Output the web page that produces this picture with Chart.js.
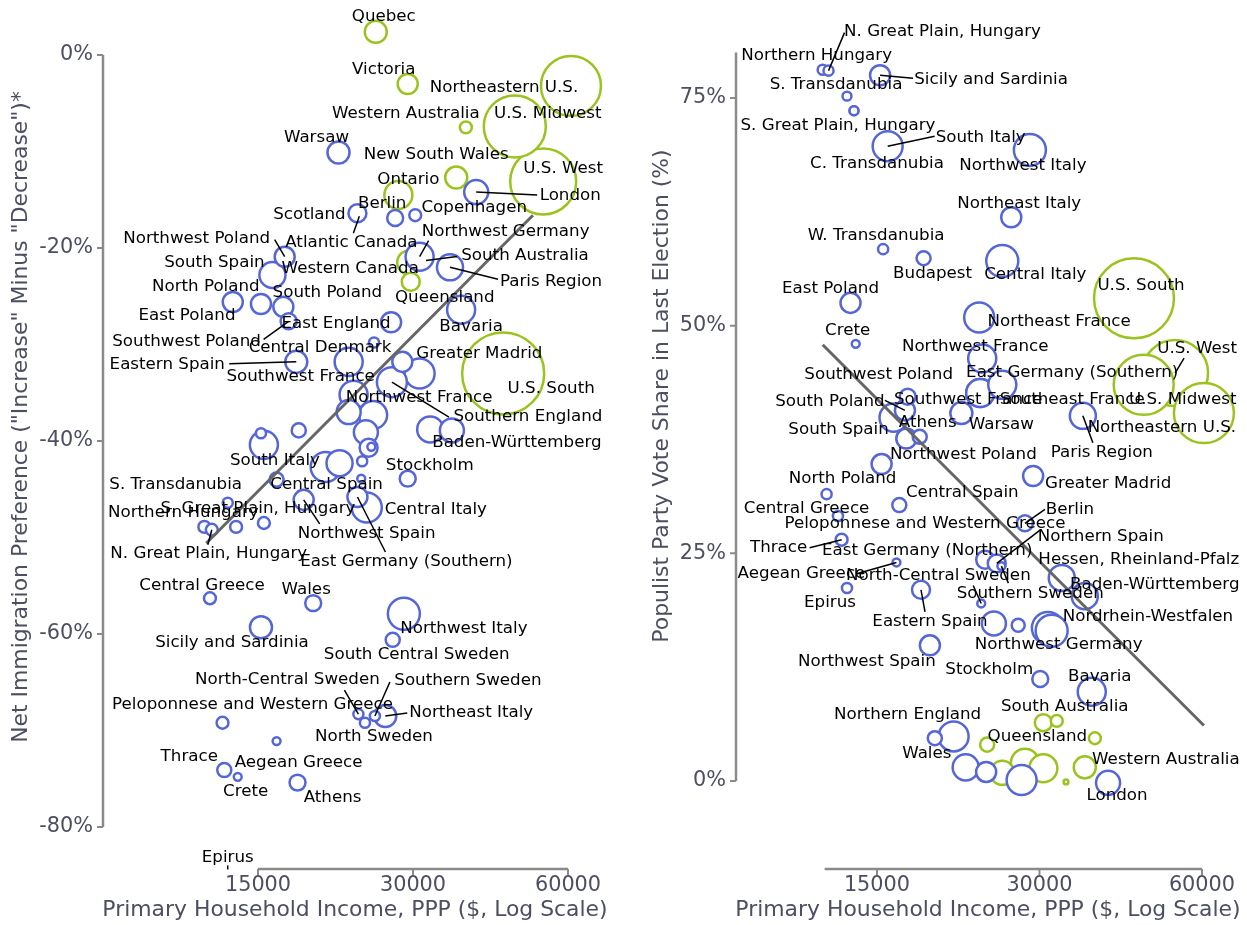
<!DOCTYPE html>
<html>
<head>
<meta charset="utf-8">
<script src="https://cdn.jsdelivr.net/npm/chart.js@4.4.1/dist/chart.umd.min.js"></script>
<style>
  html, body { margin: 0; padding: 0; background: #fff; }
  #wrap { position: relative; width: 1247px; height: 925px; overflow: hidden; }
  canvas { position: absolute; top: 0; }
</style>
</head>
<body>
<div id="wrap">
  <canvas id="leftChart" width="623" height="925" style="left:0"></canvas>
  <canvas id="rightChart" width="624" height="925" style="left:623px"></canvas>
</div>
<script>
// ---- shared ticks ----
const incomeTicks = [15000, 30000, 60000];
const leftPrefTicks = [0, -20, -40, -60, -80];
const rightShareTicks = [0, 25, 50, 75];

// ---- left panel: net immigration preference ----
// group: 'nw' = US / Canada / Australia, 'eu' = European regions
const leftRegions = ['Quebec', 'Victoria', 'Northeastern U.S.', 'Western Australia', 'U.S. Midwest', 'New South Wales', 'U.S. West', 'Ontario', 'Western Canada', 'Queensland', 'U.S. South', 'South Australia', 'Atlantic Canada',
  'Warsaw', 'London', 'Scotland', 'Berlin', 'Copenhagen', 'Northwest Germany', 'Paris Region', 'Northwest Poland', 'South Spain', 'North Poland', 'East Poland', 'South Poland', 'Bavaria', 'East England', 'Southwest Poland', 'Central Denmark', 'Eastern Spain', 'Southwest France', 'Greater Madrid', '', 'Southern England', '', '', 'Northwest France', '', '', '', '', '', 'Baden-Württemberg', 'Stockholm', '', '', '', 'South Italy', '', '', 'Central Spain', 'Northwest Spain', 'East Germany (Southern)', 'Central Italy', 'S. Great Plain, Hungary', '', 'S. Transdanubia', 'Northern Hungary', 'N. Great Plain, Hungary', 'Central Greece', 'Wales', 'Northwest Italy', 'Sicily and Sardinia', 'South Central Sweden', 'North-Central Sweden', 'Southern Sweden', 'Northeast Italy', 'North Sweden', 'Peloponnese and Western Greece', 'Aegean Greece', 'Thrace', 'Crete', 'Athens', 'Epirus'];
const leftIncome = [25400, 29300, 60800, 38000, 47300, 36400, 53700, 28100, 29500, 29700, 44900, 31800, 23600,
  21500, 39800, 23400, 27700, 30300, 30900, 35400, 16900, 16000, 13400, 15200, 16800, 37200, 27200, 17200, 25200, 17800, 22500, 28600, 30900, 27300, 23000, 22500, 25100, 24300, 24600, 24900, 23900, 32400, 35700, 29300, 23800, 20300, 21600, 15400, 15200, 18000, 16300, 18400, 23400, 24400, 15400, 13600, 13100, 11800, 12200, 12100, 19200, 28800, 15200, 27400, 23500, 25300, 26500, 24200, 12800, 16300, 12900, 13700, 17900, 13100];
const leftNetPref = [2.4, -3.0, -3.2, -7.5, -7.4, -12.7, -13.1, -14.5, -21.5, -23.5, -33.0, -21.3, -16.7,
  -10.1, -14.2, -16.4, -16.9, -16.6, -20.9, -22.0, -20.9, -22.8, -25.6, -25.8, -26.1, -26.4, -27.7, -27.6, -29.8, -31.8, -31.8, -31.8, -33.0, -33.9, -35.2, -37.0, -37.3, -39.1, -40.7, -40.6, -42.1, -38.8, -38.9, -43.9, -43.9, -42.7, -42.3, -40.4, -39.2, -38.9, -44.0, -46.1, -45.8, -46.9, -48.5, -48.9, -46.4, -48.9, -49.2, -56.3, -56.8, -57.9, -59.3, -60.6, -68.3, -68.5, -68.5, -69.2, -69.2, -71.1, -74.1, -74.8, -75.4, -84.4];
const leftPop = [8.6, 7.1, 63.6, 2.5, 68, 8.6, 77, 13.9, 10.2, 5.7, 119, 1.1, 1.8,
  8.6, 10.2, 5.7, 4.5, 2.5, 13.9, 12.0, 7.1, 12.0, 7.1, 7.1, 7.1, 13.9, 7.1, 4.5, 1.8, 8.6, 13.9, 7.1, 15.9, 15.9, 13.9, 10.2, 13.9, 10.2, 5.7, 1.1, 1.8, 12.0, 10.2, 4.5, 1.1, 15.9, 12.0, 13.9, 1.8, 3.5, 3.5, 7.1, 7.1, 15.9, 2.5, 2.5, 1.8, 2.5, 2.5, 2.5, 4.5, 18.1, 8.6, 3.5, 1.8, 1.8, 8.6, 1.8, 2.5, 1.1, 3.5, 1.1, 4.5, 1.1];
const leftGroup = leftRegions.map((_, i) => i < 13 ? 'nw' : 'eu');
const leftFitIncome = [11900, 51300];
const leftFitPref = [-50.6, -16.6];

// ---- right panel: populist vote share ----
const rightRegions = ['Northern Hungary', 'N. Great Plain, Hungary', 'Sicily and Sardinia', 'S. Transdanubia', 'S. Great Plain, Hungary', 'C. Transdanubia', 'South Italy', 'Northwest Italy', 'Northeast Italy', 'W. Transdanubia', 'Budapest', 'Central Italy', 'East Poland', 'Northeast France', 'Crete', 'Northwest France', 'East Germany (Southern)', 'Southwest France', 'Southeast France', 'Southwest Poland', 'South Poland', 'South Spain', 'Northwest Poland', 'Athens', 'Warsaw', 'Paris Region', 'North Poland', 'Greater Madrid', 'Central Greece', 'Central Spain', 'Peloponnese and Western Greece', 'Berlin', 'Thrace', 'Aegean Greece', 'East Germany (Northern)', 'Northern Spain', 'North-Central Sweden', 'Hessen, Rheinland-Pfalz', 'Baden-Württemberg', 'Epirus', 'Eastern Spain', 'Southern Sweden', '', '', 'Nordrhein-Westfalen', 'Northwest Germany', 'Northwest Spain', 'Stockholm', 'Bavaria', 'Wales', 'Northern England', '', '', '', 'London',
  'U.S. South', 'U.S. West', 'U.S. Midwest', 'Northeastern U.S.', 'Queensland', 'South Australia', '', 'Western Australia', '', '', '', '', ''];
const rightIncome = [11900, 12200, 15200, 13200, 13600, 13600, 15700, 28800, 26600, 15400, 18300, 25600, 13400, 23200, 13700, 23500, 23300, 23300, 25600, 17100, 16900, 16100, 17000, 18000, 21500, 36100, 15300, 29200, 12100, 16500, 12700, 28200, 12900, 16300, 23800, 25000, 25500, 33000, 36400, 13200, 18100, 23400, 24700, 27400, 31100, 31600, 18800, 30100, 37500, 19200, 20800, 21900, 23900, 27800, 40200,
  44900, 53500, 46800, 60500, 30500, 32300, 24000, 38000, 25600, 28200, 30500, 36400, 33600];
const rightShare = [78.1, 78.0, 77.5, 75.2, 73.6, 73.6, 69.7, 69.3, 61.9, 58.4, 57.4, 57.1, 52.5, 50.9, 48.0, 46.4, 42.6, 42.6, 43.5, 42.2, 40.7, 39.9, 37.6, 37.8, 40.4, 40.1, 34.8, 33.5, 31.5, 30.3, 29.1, 28.3, 26.5, 24.0, 24.3, 23.9, 23.6, 22.3, 20.3, 21.2, 21.0, 19.5, 17.3, 17.1, 16.8, 16.5, 14.9, 11.2, 9.8, 4.7, 4.9, 1.5, 1.0, 0.1, -0.2,
  53.0, 44.8, 43.5, 40.4, 6.4, 6.6, 4.0, 4.7, 0.9, 2.0, 1.4, 1.5, -0.1];
const rightPop = [1.8, 1.8, 7.1, 1.4, 1.4, 1.4, 15.9, 18.1, 7.1, 1.8, 3.5, 18.1, 7.1, 15.9, 1.1, 13.9, 13.9, 13.9, 13.9, 4.5, 7.1, 13.9, 7.1, 3.5, 8.6, 12.0, 7.1, 7.1, 1.8, 3.5, 1.8, 4.5, 2.5, 1.1, 5.7, 5.7, 1.1, 12.0, 12.0, 1.8, 5.7, 1.1, 10.2, 3.0, 18.1, 18.1, 7.1, 4.5, 13.9, 3.5, 15.9, 12.0, 7.1, 15.9, 10.2,
  113, 77, 63.6, 63.6, 5.1, 2.5, 3.5, 2.5, 10.2, 13.9, 13.9, 8.6, 0.4];
const rightGroup = rightRegions.map((_, i) => i < 55 ? 'eu' : 'nw');
const rightFitIncome = [11900, 60500];
const rightFitShare = [47.9, 6.1];

// ---- label placement (px offset of label centre from its bubble) ----
const leftLabelShift = [[8, -15], [-24, -14], [-67, 2], [-60, -14], [33, -13], [-20, -23], [20, -13], [10, -15], [-59, 6], [34, 16], [48, 15], [99, -5], [-8, 27],
  [-22, -15], [94, 4], [-48, 1], [-13, -14], [59, -8], [86, -25], [101, 14], [-88, -18], [-58, -12], [-27, -15], [-74, 12], [44, -14], [10, 17], [-55, 1], [-102, 20], [-54, 5], [-129, 3], [-48, 15], [77, -8], null, [136, 35], null, null, [46, -17], null, null, null, null, null, [65, 12], [22, -13], null, null, null, [11, 16], null, null, [50, 5], [63, 34], [49, 65], [69, 2], [-6, -14], null, [-52, -18], [-21, -14], [-3, 24], [-8, -13], [-7, -13], [60, 15], [-29, 15], [24, 15], [-71, -34], [93, -35], [86, -3], [9, 14], [30, -18], [22, 22], [-35, -13], [8, 15], [35, 15], [0, -12]];
const leftLeaders = {11: [31, -4], 12: [-6, 17], 14: [61, 3], 18: [9, -16], 19: [48, 12], 20: [-10, -17], 27: [-25, 18], 29: [-67, 2], 33: [57, 35], 51: [16, 24], 52: [28, 55], 58: [-4, 15], 64: [-14, -24], 65: [15, -34], 66: [22, -3], 73: [0, -4]};

const rightLabelShift = [[-6, -14], [114, -39], [111, 4], [-11, -11], [-16, 15], [23, 53], [93, -9], [-7, 16], [8, -14], [-7, -13], [9, 15], [33, 14], [-20, -14], [80, 4], [-8, -13], [-7, -12], [92, -20], [-12, 7], [70, 15], [-29, -22], [-75, -9], [-55, 12], [57, 16], [8, -14], [40, 12], [19, 37], [-39, 15], [75, 8], [-20, 15], [63, -12], [87, 8], [45, -14], [-63, 8], [-95, 11], [-58, -9], [104, -27], [-63, 10], [77, -18], [70, -11], [-17, 15], [9, 32], [49, -10], null, null, [100, -11], [7, 14], [-63, 16], [-51, -9], [8, -15], [-8, 15], [-46, -22], null, null, null, [9, 13],
  [7, -13], [22, -24], [39, 15], [-42, 15], [-6, 14], [8, -14], null, [71, 21], null, null, null, null, null];
const rightLeaders = {1: [16, -38], 2: [33, 3], 6: [47, -10], 20: [-20, -10], 25: [10, 27], 31: [20, -14], 32: [-32, 8], 33: [-39, 11], 35: [43, -33], 36: [7, 17], 40: [4, 22], 41: [-8, -18], 56: [9, -15]};

const BLUE = '#5566d8';
const GREEN = '#9bc31e';
const INK = '#4c4e62';

function bubbleRadius(pop) {
  return 3.76 * Math.sqrt(pop);
}

// bubbles of one group, largest first so the small ones sit on top
function bubblePoints(income, vals, pop, group, want) {
  const idx = income.map((_, i) => i).filter(i => group[i] === want);
  idx.sort((a, b) => pop[b] - pop[a]);
  return idx.map(i => ({x: income[i], y: vals[i], r: bubbleRadius(pop[i])}));
}

function fitPoints(xs, ys) {
  return xs.map((x, i) => ({x: x, y: ys[i]}));
}

// axes, ticks, titles and the region labels
const panelDecor = {
  id: 'panelDecor',
  afterDraw(chart, args, o) {
    const ctx = chart.ctx;
    const xs = chart.scales.x, ys = chart.scales.y;
    ctx.save();

    // region labels + leader lines
    ctx.font = '16.7px "DejaVu Sans"';
    ctx.fillStyle = '#000';
    ctx.strokeStyle = '#000';
    ctx.lineWidth = 1.5;
    ctx.textAlign = 'center';
    ctx.textBaseline = 'middle';
    o.names.forEach((name, i) => {
      const shift = o.labelShift[i];
      if (!name || !shift) return;
      const px = xs.getPixelForValue(o.income[i]);
      const py = ys.getPixelForValue(o.values[i]);
      const lead = o.leaders[i];
      if (lead) {
        ctx.beginPath();
        ctx.moveTo(px + lead[0], py + lead[1]);
        ctx.lineTo(px, py);
        ctx.stroke();
      }
      ctx.fillText(name, px + shift[0], py + shift[1]);
    });

    // trimmed, offset spines
    const yA = o.yAxisAt, xA = o.xAxisAt;
    ctx.strokeStyle = '#8a8a8a';
    ctx.lineWidth = 2.5;
    ctx.beginPath();
    ctx.moveTo(yA, ys.getPixelForValue(o.ySpan[0]));
    ctx.lineTo(yA, ys.getPixelForValue(o.ySpan[1]));
    ctx.moveTo(xs.getPixelForValue(o.xSpan[0]), xA);
    ctx.lineTo(xs.getPixelForValue(o.xSpan[1]), xA);
    ctx.stroke();
    ctx.lineWidth = 2;
    ctx.beginPath();
    o.yTicks.forEach(v => {
      const y = ys.getPixelForValue(v);
      ctx.moveTo(yA - 6, y);
      ctx.lineTo(yA, y);
    });
    o.xTicks.forEach(v => {
      const x = xs.getPixelForValue(v);
      ctx.moveTo(x, xA);
      ctx.lineTo(x, xA + 6);
    });
    ctx.stroke();

    ctx.fillStyle = INK;
    ctx.font = '20.8px "DejaVu Sans"';
    ctx.textAlign = 'right';
    ctx.textBaseline = 'middle';
    o.yTicks.forEach(v => ctx.fillText(v + '%', yA - 10, ys.getPixelForValue(v)));
    ctx.textAlign = 'center';
    o.xTicks.forEach(v => ctx.fillText(String(v), xs.getPixelForValue(v), xA + 17));

    ctx.font = '21.9px "DejaVu Sans"';
    ctx.fillText(o.xTitle, o.xTitleAt[0], o.xTitleAt[1]);
    ctx.translate(o.yTitleAt[0], o.yTitleAt[1]);
    ctx.rotate(-Math.PI / 2);
    ctx.fillText(o.yTitle, 0, 0);
    ctx.restore();
  }
};

function makePanel(canvasId, d) {
  return new Chart(document.getElementById(canvasId), {
    type: 'bubble',
    data: {
      datasets: [
        {
          type: 'line',
          data: fitPoints(d.fitX, d.fitY),
          borderColor: '#666666',
          borderWidth: 3,
          pointRadius: 0,
          fill: false,
          order: 0
        },
        {
          data: bubblePoints(d.income, d.values, d.pop, d.group, 'eu'),
          backgroundColor: '#ffffff',
          borderColor: BLUE,
          borderWidth: 2.5,
          order: 1
        },
        {
          data: bubblePoints(d.income, d.values, d.pop, d.group, 'nw'),
          backgroundColor: '#ffffff',
          borderColor: GREEN,
          borderWidth: 2.5,
          order: 2
        }
      ]
    },
    options: {
      responsive: false,
      animation: false,
      events: [],
      layout: {padding: d.padding, autoPadding: false},
      scales: {
        x: {type: 'logarithmic', min: d.xRange[0], max: d.xRange[1], display: false},
        y: {type: 'linear', min: d.yRange[0], max: d.yRange[1], display: false}
      },
      plugins: {
        legend: {display: false},
        tooltip: {enabled: false},
        panelDecor: {
          names: d.names, income: d.income, values: d.values,
          labelShift: d.labelShift, leaders: d.leaders,
          yAxisAt: d.yAxisAt, xAxisAt: 869,
          ySpan: d.ySpan, xSpan: d.xSpan,
          yTicks: d.yTicks, xTicks: incomeTicks,
          xTitle: 'Primary Household Income, PPP ($, Log Scale)',
          xTitleAt: d.xTitleAt,
          yTitle: d.yTitle, yTitleAt: d.yTitleAt
        }
      }
    },
    plugins: [panelDecor]
  });
}

makePanel('leftChart', {
  names: leftRegions, income: leftIncome, values: leftNetPref, pop: leftPop, group: leftGroup,
  fitX: leftFitIncome, fitY: leftFitPref,
  labelShift: leftLabelShift, leaders: leftLeaders,
  padding: {left: 103, right: 5.1, top: 6.75, bottom: 78.7},
  xRange: [7500, 75000], yRange: [-82, 5],
  yAxisAt: 103, ySpan: [0, -80], xSpan: [15000, 60000], yTicks: leftPrefTicks,
  xTitleAt: [355, 910],
  yTitle: 'Net Immigration Preference ("Increase" Minus "Decrease")*', yTitleAt: [21, 417]
});

makePanel('rightChart', {
  names: rightRegions, income: rightIncome, values: rightShare, pop: rightPop, group: rightGroup,
  fitX: rightFitIncome, fitY: rightFitShare,
  labelShift: rightLabelShift, leaders: rightLeaders,
  padding: {left: 106.6, right: 2.3, top: 6.9, bottom: 52.9},
  xRange: [8000, 72000], yRange: [-10, 85],
  yAxisAt: 113, ySpan: [0, 80], xSpan: [12000, 60000], yTicks: rightShareTicks,
  xTitleAt: [365, 910],
  yTitle: 'Populist Party Vote Share in Last Election (%)', yTitleAt: [39, 396]
});
</script>
</body>
</html>
